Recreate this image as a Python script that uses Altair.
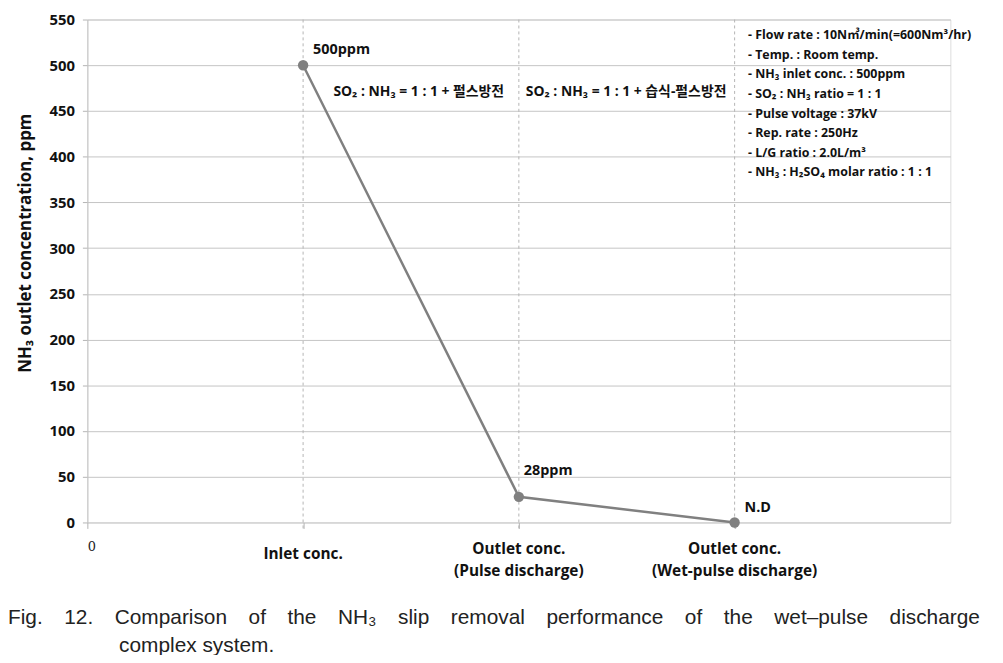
import altair as alt
import pandas as pd

# ---- data ----
positions = [1, 2, 3]
categories = ["Inlet conc.", "Outlet conc.\n(Pulse discharge)", "Outlet conc.\n(Wet-pulse discharge)"]
values = [500, 28, 0]
value_labels = ["500ppm", "28ppm", "N.D"]

notes = ["SO₂ : NH₃ = 1 : 1 + 펄스방전", "SO₂ : NH₃ = 1 : 1 + 습식-펄스방전"]
note_x = [1.536, 2.497]
note_y = [471, 471]

conditions = [
    "- Flow rate : 10N㎥/min(=600Nm³/hr)",
    "- Temp. : Room temp.",
    "- NH₃ inlet conc. : 500ppm",
    "- SO₂ : NH₃ ratio = 1 : 1",
    "- Pulse voltage : 37kV",
    "- Rep. rate : 250Hz",
    "- L/G ratio : 2.0L/m³",
    "- NH₃ : H₂SO₄ molar ratio : 1 : 1",
]

caption_words = ["Fig.", "12.", "Comparison", "of", "the", "NH₃", "slip", "removal",
                 "performance", "of", "the", "wet–pulse", "discharge"]
caption_line2 = "complex system."

FONT = "Open Sans, Noto Sans CJK KR, sans-serif"
GRAY = "#808080"
GAP = "\u00a0" * 3 + "\u2009"

df = pd.DataFrame({"x": positions, "y": values, "cat": categories, "lab": value_labels})
df["two"] = df["cat"].str.contains("\n")
notes_df = pd.DataFrame({"x": note_x, "y": note_y, "t": notes})

xscale = alt.Scale(domain=[0, 4], nice=False, zero=False)
yscale = alt.Scale(domain=[0, 550], nice=False)

base = alt.Chart(df)

vrules = base.mark_rule(color="#b4b4b4", strokeDash=[3, 3], strokeWidth=1).encode(
    x=alt.X("x:Q", scale=xscale,
            axis=alt.Axis(values=[0, 1, 2, 3], labelExpr="datum.value == 0 ? '0' : ''",
                          grid=False, domain=False, tickColor="#b4b4b4", tickSize=6,
                          labelFont="DejaVu Serif, serif", labelFontSize=13, labelColor="#222",
                          labelPadding=12, title=None)),
    y=alt.value(0), y2=alt.value(513),
)

line = base.mark_line(color=GRAY, strokeWidth=2.5).encode(
    x=alt.X("x:Q", scale=xscale),
    y=alt.Y("y:Q", scale=yscale,
            axis=alt.Axis(values=list(range(0, 551, 50)), title="NH₃ outlet concentration, ppm",
                          titleFont=FONT, titleFontSize=17, titleFontWeight="bold", titleColor="#111",
                          titlePadding=15, titleY=225,
                          labelFont=FONT, labelFontSize=15, labelFontWeight="bold", labelColor="#111",
                          labelPadding=8, tickSize=5, tickColor="#b4b4b4",
                          gridColor="#c4c4c4", gridWidth=1, domainColor="#c4c4c4")),
)

pts = base.mark_circle(color=GRAY, size=110, opacity=1).encode(
    x=alt.X("x:Q", scale=xscale), y=alt.Y("y:Q", scale=yscale))

lab_a = base.transform_filter("datum.lab != '28ppm'").mark_text(
    align="left", baseline="middle", dx=10, dy=-15, font=FONT, fontSize=14.5, fontWeight="bold", color="#111"
).encode(x=alt.X("x:Q", scale=xscale), y=alt.Y("y:Q", scale=yscale), text="lab:N")

lab_b = base.transform_filter("datum.lab == '28ppm'").mark_text(
    align="left", baseline="middle", dx=5, dy=-26, font=FONT, fontSize=14.5, fontWeight="bold", color="#111"
).encode(x=alt.X("x:Q", scale=xscale), y=alt.Y("y:Q", scale=yscale), text="lab:N")

cats1 = base.transform_filter("!datum.two").mark_text(
    align="center", baseline="middle", font=FONT, fontSize=15.5, fontWeight="bold", color="#111"
).encode(x=alt.X("x:Q", scale=xscale), y=alt.value(539), text="cat:N")

cats2 = base.transform_filter("datum.two").mark_text(
    align="center", baseline="middle", lineBreak="\n", lineHeight=22,
    font=FONT, fontSize=15.5, fontWeight="bold", color="#111"
).encode(x=alt.X("x:Q", scale=xscale), y=alt.value(534), text="cat:N")

note_txt = alt.Chart(notes_df).mark_text(
    align="center", baseline="middle", font=FONT, fontSize=14, fontWeight="bold", color="#111"
).encode(x=alt.X("x:Q", scale=xscale), y=alt.Y("y:Q", scale=yscale), text="t:N")

cond_txt = alt.Chart(pd.DataFrame({"t": ["\n".join(conditions)]})).mark_text(
    align="left", baseline="alphabetic", lineBreak="\n", lineHeight=19.7,
    font=FONT, fontSize=12.5, fontWeight="bold", color="#111"
).encode(x=alt.value(666), y=alt.value(20), text="t:N")

cap1 = alt.Chart(pd.DataFrame({"t": [GAP.join(caption_words)]})).mark_text(
    align="left", baseline="middle", font="Liberation Sans, Arial, sans-serif", fontSize=21, color="#222"
).encode(x=alt.value(-80), y=alt.value(603), text="t:N")

cap2 = alt.Chart(pd.DataFrame({"t": [caption_line2]})).mark_text(
    align="left", baseline="middle", font="Liberation Sans, Arial, sans-serif", fontSize=21, color="#222"
).encode(x=alt.value(32), y=alt.value(632), text="t:N")

chart = alt.layer(vrules, line, pts, lab_a, lab_b, cats1, cats2, note_txt, cond_txt, cap1, cap2).properties(
    width=870, height=507,
    autosize=alt.AutoSizeParams(type="none"),
    padding={"left": 80, "top": 9, "right": 45, "bottom": 131},
).configure_view(stroke=None).configure(background="white")

chart.save("out.html", embed_options={"renderer": "svg", "actions": False})
